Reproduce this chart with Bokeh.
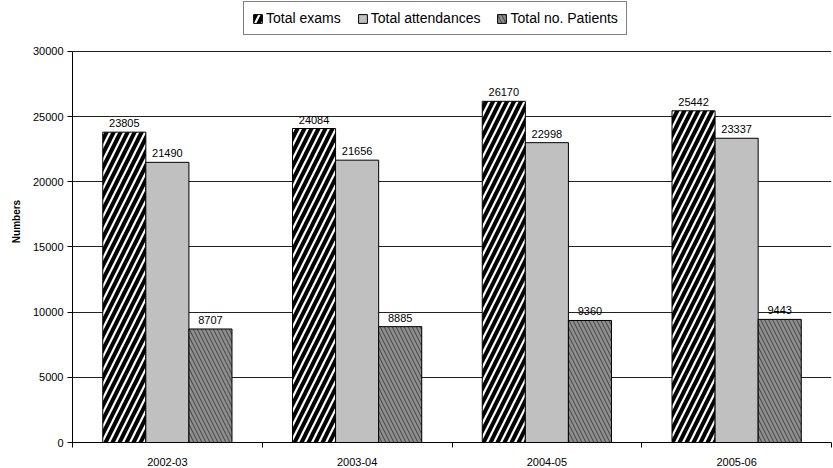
import numpy as np
from bokeh.plotting import figure
from bokeh.models import (ColumnDataSource, Range1d, FixedTicker, Legend, LegendItem)
from bokeh.core.properties import value
from bokeh.embed import file_html
from bokeh.resources import INLINE

categories = ["2002-03", "2003-04", "2004-05", "2005-06"]
exams = [23805, 24084, 26170, 25442]
attendances = [21490, 21656, 22998, 23337]
patients = [8707, 8885, 9360, 9443]

FONT = "Liberation Sans"
BAR_W = 0.227
Y_MAX = 30000
# frame runs to the top of the canvas so the legend can sit above the
# 30000 line; the axis and grid stop at Y_MAX
FRAME_H = 443
DATA_H = 392

centers = np.arange(len(categories)) + 0.5

p = figure(width=833, height=468, output_backend="svg", toolbar_location=None,
           x_range=Range1d(0, len(categories)),
           y_range=Range1d(0, Y_MAX * FRAME_H / DATA_H),
           min_border_left=72, min_border_right=2, min_border_top=0,
           min_border_bottom=25)
p.outline_line_color = None
p.background_fill_color = "white"
p.border_fill_color = "white"

def series_source(vals, offset):
    return ColumnDataSource(dict(x=centers + offset, top=vals,
                                 label=[str(v) for v in vals]))

src_exams = series_source(exams, -BAR_W)
src_att = series_source(attendances, 0.0)
src_pat = series_source(patients, BAR_W)

r_exams = p.vbar(x="x", top="top", width=BAR_W, source=src_exams,
                 fill_color="white", line_color="black", line_width=1,
                 hatch_pattern="/", hatch_color="black", hatch_scale=14,
                 hatch_weight=4)
r_att = p.vbar(x="x", top="top", width=BAR_W, source=src_att,
               fill_color="#c0c0c0", line_color="black", line_width=1)
r_pat = p.vbar(x="x", top="top", width=BAR_W, source=src_pat,
               fill_color="#4d4d4d", line_color="black", line_width=1,
               hatch_pattern="\\", hatch_color="#8f8f8f", hatch_scale=8,
               hatch_weight=2.5)

for src in (src_exams, src_att, src_pat):
    p.text(x="x", y="top", text="label", source=src, text_align="center",
           text_baseline="alphabetic", y_offset=-9,
           text_font=value(FONT), text_font_size="11px", text_color="black")

# y axis
p.yaxis.ticker = FixedTicker(ticks=list(range(0, Y_MAX + 1, 5000)))
p.yaxis.bounds = (0, Y_MAX)
p.yaxis.axis_label = "Numbers"
p.yaxis.axis_label_text_font = FONT
p.yaxis.axis_label_text_font_size = "10px"
p.yaxis.axis_label_text_font_style = "bold"
p.yaxis.axis_label_text_color = "black"
p.yaxis.axis_label_standoff = 8
p.yaxis.major_label_text_font = FONT
p.yaxis.major_label_text_font_size = "11px"
p.yaxis.major_label_text_color = "black"
p.yaxis.major_label_standoff = 4
p.yaxis.major_tick_out = 5
p.yaxis.major_tick_in = 0
p.yaxis.minor_tick_line_color = None
p.yaxis.axis_line_color = "black"
p.yaxis.major_tick_line_color = "black"

# x axis: labels at category centres, ticks at category boundaries
p.xaxis.ticker = FixedTicker(ticks=list(centers),
                             minor_ticks=list(range(len(categories) + 1)))
p.xaxis.major_label_overrides = {float(c): cat for c, cat in zip(centers, categories)}
p.xaxis.major_label_text_font = FONT
p.xaxis.major_label_text_font_size = "11px"
p.xaxis.major_label_text_color = "black"
p.xaxis.major_tick_line_color = None
p.xaxis.major_tick_out = 0
p.xaxis.major_tick_in = 0
p.xaxis.major_label_standoff = 10
p.xaxis.minor_tick_out = 5
p.xaxis.minor_tick_in = 0
p.xaxis.minor_tick_line_color = "black"
p.xaxis.axis_line_color = "black"

p.xgrid.grid_line_color = None
p.ygrid.grid_line_color = "#222222"
p.ygrid.grid_line_width = 1
p.ygrid.bounds = (0, Y_MAX)

legend = Legend(items=[
    LegendItem(label="Total exams", renderers=[r_exams]),
    LegendItem(label="Total attendances", renderers=[r_att]),
    LegendItem(label="Total no. Patients", renderers=[r_pat]),
], orientation="horizontal", location=(171, 407))
legend.label_text_font = FONT
legend.label_text_font_size = "14px"
legend.label_text_color = "black"
legend.glyph_width = 11
legend.glyph_height = 11
legend.label_standoff = 3
legend.spacing = 16
legend.padding = 8
legend.margin = 0
legend.label_height = 14
legend.border_line_color = "black"
legend.border_line_width = 1
legend.background_fill_color = "white"
legend.background_fill_alpha = 1
p.add_layout(legend, "center")

open("out.html", "w").write(file_html(p, INLINE))
